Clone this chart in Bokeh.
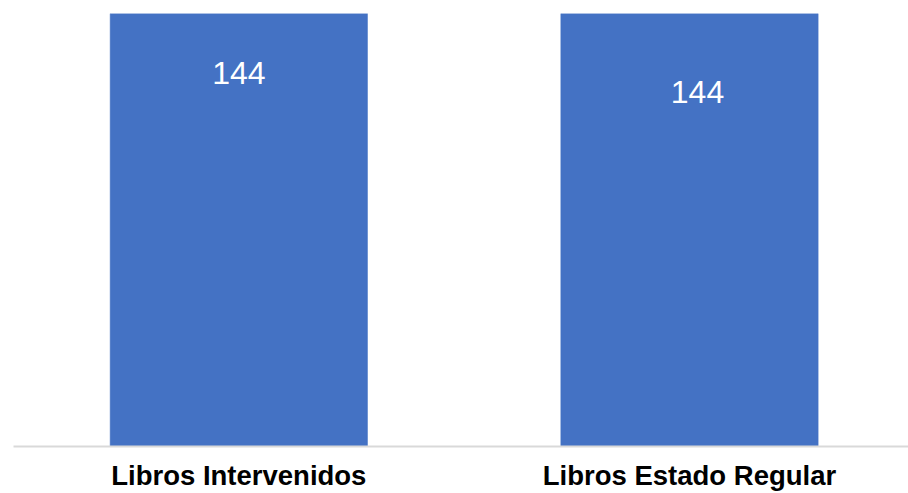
from bokeh.plotting import figure
from bokeh.models import ColumnDataSource, Range1d, FixedTicker
from bokeh.embed import file_html
from bokeh.resources import INLINE
from bokeh.core.properties import value

# data
categories = ["Libros Intervenidos", "Libros Estado Regular"]
counts = [144, 144]
value_labels = ["144", "144"]

# styling (label nudges in screen pixels)
label_x_offsets = [0, 8]
label_y_offsets = [59, 78]

x_pos = [i + 0.5 for i in range(len(categories))]

source = ColumnDataSource(dict(
    x=x_pos, top=counts, label=value_labels,
    xo=label_x_offsets, yo=label_y_offsets,
))

p = figure(width=908, height=493, output_backend="svg", toolbar_location=None,
           x_range=Range1d(0.0, 1.986), y_range=Range1d(0, 144),
           min_border_left=13, min_border_right=0, min_border_top=13,
           min_border_bottom=47)

p.vbar(x="x", top="top", bottom=0, width=0.571, source=source,
       fill_color="#4472C4", line_color="#4472C4", line_width=0.5)

p.text(x="x", y="top", text="label", source=source,
       x_offset="xo", y_offset="yo",
       text_color="white", text_font=value("Liberation Sans"),
       text_font_size="32px", text_align="center", text_baseline="middle")

p.yaxis.visible = False
p.xgrid.visible = False
p.ygrid.visible = False
p.outline_line_color = None

xa = p.xaxis[0]
xa.ticker = FixedTicker(ticks=x_pos)
xa.major_label_overrides = {x: c for x, c in zip(x_pos, categories)}
xa.major_label_text_font = "Liberation Sans"
xa.major_label_text_font_style = "bold"
xa.major_label_text_font_size = "27.5px"
xa.major_label_text_color = "black"
xa.major_label_standoff = 13
xa.major_tick_line_color = None
xa.minor_tick_line_color = None
xa.major_tick_out = 0
xa.major_tick_in = 0
xa.axis_line_color = "#d9d9d9"
xa.axis_line_width = 2

open("out.html", "w").write(file_html(p, INLINE))
